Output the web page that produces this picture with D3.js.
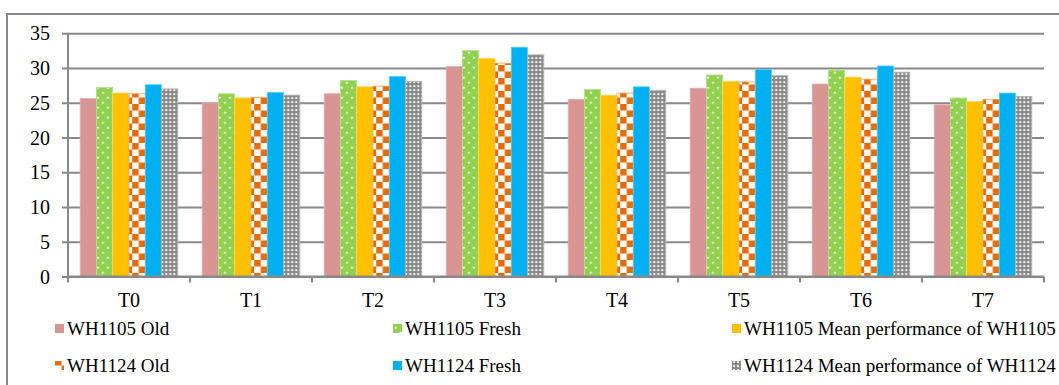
<!DOCTYPE html>
<html>
<head>
<meta charset="utf-8">
<script src="https://cdn.jsdelivr.net/npm/d3@7/dist/d3.min.js"></script>
<style>
  html, body { margin: 0; padding: 0; background: #fff; }
  svg { display: block; }
</style>
</head>
<body>
<div id="chart"></div>
<script>
// Treatments along the x axis
const categories = ["T0", "T1", "T2", "T3", "T4", "T5", "T6", "T7"];

// Series values per treatment
const wh1105Old   = [25.6, 25.0, 26.3, 30.2, 25.5, 27.1, 27.7, 24.7];
const wh1105Fresh = [27.2, 26.3, 28.2, 32.5, 26.9, 29.0, 29.7, 25.7];
const wh1105Mean  = [26.4, 25.7, 27.3, 31.4, 26.1, 28.1, 28.7, 25.2];
const wh1124Old   = [26.3, 25.8, 27.4, 30.7, 26.4, 28.0, 28.4, 25.5];
const wh1124Fresh = [27.6, 26.5, 28.8, 33.0, 27.3, 29.8, 30.3, 26.4];
const wh1124Mean  = [27.0, 26.1, 28.1, 31.9, 26.8, 28.9, 29.4, 25.9];

const seriesNames = [
  "WH1105 Old", "WH1105 Fresh", "WH1105 Mean performance of WH1105",
  "WH1124 Old", "WH1124 Fresh", "WH1124 Mean performance of WH1124"
];
const yTicks = [0, 5, 10, 15, 20, 25, 30, 35];

const seriesValues = [wh1105Old, wh1105Fresh, wh1105Mean, wh1124Old, wh1124Fresh, wh1124Mean];
const series = seriesNames.map((name, i) => ({ name, key: "s" + i, values: seriesValues[i] }));

const W = 1059, H = 385;
const plot = { left: 68, right: 1044, top: 33.3, bottom: 276.5 };
const axisFont = 20;
const legendFont = 19;
const serif = "'Liberation Serif', 'Times New Roman', Tinos, Times, serif";

const svg = d3.select("#chart").append("svg").attr("width", W).attr("height", H);
const defs = svg.append("defs");

// Fill patterns
const pDots = defs.append("pattern").attr("id", "p-dots").attr("patternUnits", "userSpaceOnUse")
  .attr("width", 10).attr("height", 10);
pDots.append("rect").attr("width", 10).attr("height", 10).attr("fill", "#92D050");
pDots.append("rect").attr("x", 1.8).attr("y", 1.8).attr("width", 1.8).attr("height", 1.8).attr("fill", "#fff");
pDots.append("rect").attr("x", 6.8).attr("y", 6.8).attr("width", 1.8).attr("height", 1.8).attr("fill", "#fff");

const cs = 6.5;
const pCheck = defs.append("pattern").attr("id", "p-check").attr("patternUnits", "userSpaceOnUse")
  .attr("width", cs * 2).attr("height", cs * 2);
pCheck.append("rect").attr("width", cs * 2).attr("height", cs * 2).attr("fill", "#fff");
pCheck.append("rect").attr("width", cs).attr("height", cs).attr("fill", "#E46C0A");
pCheck.append("rect").attr("x", cs).attr("y", cs).attr("width", cs).attr("height", cs).attr("fill", "#E46C0A");

const pGrid = defs.append("pattern").attr("id", "p-grid").attr("patternUnits", "userSpaceOnUse")
  .attr("width", 4).attr("height", 4);
pGrid.append("rect").attr("width", 4).attr("height", 4).attr("fill", "#8C8C8C");
pGrid.append("rect").attr("x", 1.2).attr("y", 1.2).attr("width", 1.8).attr("height", 1.8).attr("fill", "#fff");

const fills = ["#D99594", "url(#p-dots)", "#FFC000", "url(#p-check)", "#00B0F0", "url(#p-grid)"];
const edges = ["#E3ABAA", "#B5E08C", "#FFD75A", "#F0A060", "#5FCDF5", "#B0B0B0"];

// Outer chart frame
svg.append("rect").attr("x", 7).attr("y", 14).attr("width", W).attr("height", H)
  .attr("fill", "none").attr("stroke", "#898989").attr("stroke-width", 2);

// Scales
const x0 = d3.scaleBand().domain(categories).range([plot.left, plot.right])
  .paddingInner(0.2).paddingOuter(0.1);
const x1 = d3.scaleBand().domain(series.map(s => s.key)).range([0, x0.bandwidth()]);
const y = d3.scaleLinear().domain([0, 35]).range([plot.bottom, plot.top]);

// Gridlines and left ticks
const yAxis = d3.axisLeft(y).tickValues(yTicks).tickSize(-(plot.right - plot.left)).tickPadding(12)
  .tickSizeOuter(0);
const gy = svg.append("g").attr("transform", `translate(${plot.left},0)`).call(yAxis);
gy.select(".domain").remove();
gy.selectAll(".tick line").attr("x1", -6).attr("stroke", "#898989").attr("stroke-width", 2);
gy.selectAll(".tick text").attr("x", -18).attr("dy", "0.33em")
  .style("font-size", axisFont + "px");

// Bars
const groups = svg.append("g").selectAll("g").data(categories).join("g")
  .attr("transform", d => `translate(${x0(d)},0)`);
groups.selectAll("rect")
  .data((c, ci) => series.map((s, si) => ({ key: s.key, si, v: s.values[ci] })))
  .join("rect")
  .attr("x", d => x1(d.key))
  .attr("y", d => y(d.v))
  .attr("width", x1.bandwidth())
  .attr("height", d => y(0) - y(d.v))
  .attr("fill", d => fills[d.si])
  .attr("stroke", d => edges[d.si])
  .attr("stroke-width", 0.8);

// Vertical axis line
svg.append("line").attr("x1", plot.left).attr("x2", plot.left)
  .attr("y1", plot.top).attr("y2", plot.bottom)
  .attr("stroke", "#898989").attr("stroke-width", 2);

// Category axis
const xAxis = d3.axisBottom(x0).tickSize(0).tickPadding(16);
const gx = svg.append("g").attr("transform", `translate(0,${plot.bottom})`).call(xAxis);
gx.select(".domain").attr("stroke", "#898989").attr("stroke-width", 2)
  .attr("d", `M${plot.left},0H${plot.right}`);
gx.selectAll(".tick text").style("font-size", axisFont + "px");
// Boundary ticks between categories
const bounds = d3.range(categories.length + 1).map(i => plot.left + i * x0.step());
gx.selectAll(".sep").data(bounds).join("line").attr("class", "sep")
  .attr("x1", d => d).attr("x2", d => d).attr("y1", 0).attr("y2", 6)
  .attr("stroke", "#898989").attr("stroke-width", 2);

// Legend: two rows of three
const legendCols = [55, 393, 732];
const legendRows = [335, 372];
const lg = svg.append("g").selectAll("g").data(series).join("g")
  .attr("transform", (d, i) => `translate(${legendCols[i % 3]},${legendRows[Math.floor(i / 3)]})`);
lg.append("rect").attr("x", 0).attr("y", -11).attr("width", 9).attr("height", 9)
  .attr("fill", (d, i) => fills[i]);
lg.append("text").attr("x", 12).attr("y", 0).text(d => d.name)
  .style("font-size", legendFont + "px");

// Serif type everywhere
svg.selectAll("text")
  .style("font-family", serif)
  .style("fill", "#000");
</script>
</body>
</html>
